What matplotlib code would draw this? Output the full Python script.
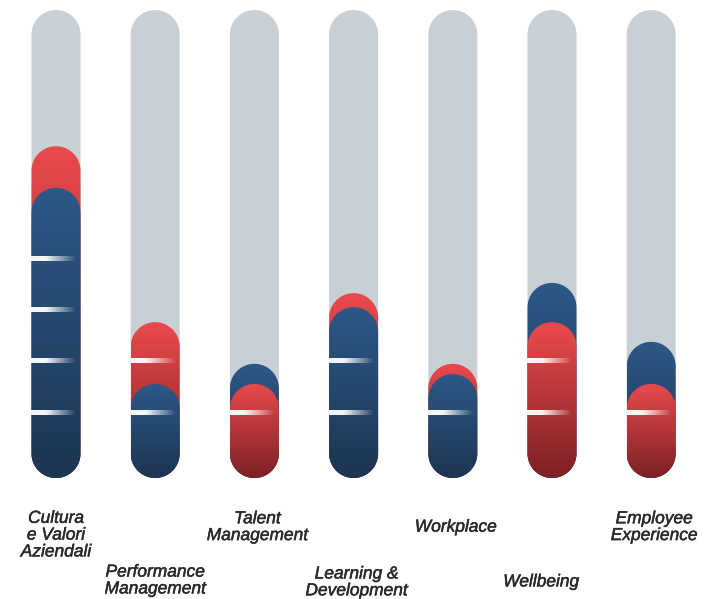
import numpy as np
import matplotlib
matplotlib.use('Agg')
import matplotlib.pyplot as plt
import matplotlib.patheffects as pe
from matplotlib.path import Path
from matplotlib.patches import PathPatch
from matplotlib.colors import LinearSegmentedColormap

# Data (height of each bar on a 0-100 track)
categories = ['Cultura\ne Valori\nAziendali', 'Performance\nManagement', 'Talent\nManagement',
              'Learning &\nDevelopment', 'Workplace', 'Wellbeing', 'Employee\nExperience']
red_values = [70.9, 33.3, 20.1, 39.5, 24.4, 33.3, 20.1]
blue_values = [62.0, 20.1, 24.4, 36.5, 22.2, 41.7, 29.1]
track_max = 100
tick_levels = [13.9, 25.0, 35.9, 46.8]
ticks_per_bar = [4, 2, 1, 2, 1, 2, 1]

# label placement (below the bars, staggered)
label_y = [-12.2, -21.9, -10.5, -22.3, -10.5, -22.2, -10.5]
label_dx = [0, 0, 0.03, 0.03, 0.03, -0.11, 0.03]

GREY = '#C9D0D5'
RED_TOP, RED_BOT = '#EA4A4C', '#7C2024'
BLUE_TOP, BLUE_BOT = '#2D5887', '#1C3552'

fig = plt.figure(figsize=(7.06, 5.99), dpi=100)
ax = fig.add_axes([0, 0, 1, 1])
xlim = (-0.5645, 6.5524)
ylim = (-25.85, 102.14)

px_x = 706 / (xlim[1] - xlim[0])
px_y = 599 / (ylim[1] - ylim[0])
bar_w = 0.494
rx = bar_w / 2
ry = rx * px_x / px_y


def pill(x, top):
    t = np.linspace(0, np.pi, 60)
    top_arc = np.column_stack([x + rx * np.cos(t), top - ry + ry * np.sin(t)])
    bot_arc = np.column_stack([x - rx * np.cos(t), ry - ry * np.sin(t)])
    verts = np.vstack([top_arc, bot_arc, top_arc[:1]])
    codes = [Path.MOVETO] + [Path.LINETO] * (len(verts) - 2) + [Path.CLOSEPOLY]
    return Path(verts, codes)


def gradient_pill(x, top, c_top, c_bot, z):
    patch = PathPatch(pill(x, top), facecolor='none', edgecolor='none')
    ax.add_patch(patch)
    cmap = LinearSegmentedColormap.from_list('g', [c_bot, c_top])
    grad = np.linspace(0, 1, 256).reshape(-1, 1)
    im = ax.imshow(grad, cmap=cmap, extent=[x - rx, x + rx, 0, top], origin='lower',
                   aspect='auto', zorder=z, interpolation='bicubic')
    im.set_clip_path(patch)


# white fading tick stroke
u = np.linspace(0, 1, 200)
alpha = np.clip(1 - (u - 0.3) / 0.6, 0, 1) * 0.95
stroke = np.ones((1, 200, 4))
stroke[0, :, 3] = alpha
stroke_h = 4.5 / px_y

for i in range(len(categories)):
    ax.add_patch(PathPatch(pill(i, track_max), facecolor=GREY, edgecolor='none', zorder=1))
    r, b = red_values[i], blue_values[i]
    zr, zb = (2, 3) if r >= b else (3, 2)
    gradient_pill(i, r, RED_TOP, RED_BOT, zr)
    gradient_pill(i, b, BLUE_TOP, BLUE_BOT, zb)
    for lev in tick_levels[:ticks_per_bar[i]]:
        ax.imshow(stroke, extent=[i - rx, i + rx, lev - stroke_h / 2, lev + stroke_h / 2],
                  aspect='auto', zorder=4, interpolation='bilinear')
    ax.text(i + label_dx[i], label_y[i], categories[i], ha='center', va='center',
            style='italic', fontsize=12.5, color='#2A2A2A', family='Liberation Sans',
            linespacing=1.15,
            path_effects=[pe.withStroke(linewidth=0.35, foreground='#2A2A2A')])

ax.set_xlim(xlim)
ax.set_ylim(ylim)
ax.axis('off')
fig.savefig('out.png', dpi=100, facecolor='white')
